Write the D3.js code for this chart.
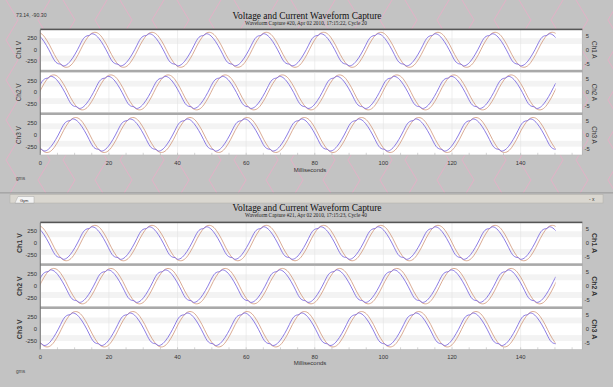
<!DOCTYPE html>
<html><head><meta charset="utf-8">
<script src="https://cdn.jsdelivr.net/npm/d3@7"></script>
<style>body{margin:0;background:#c3c3c3;overflow:hidden} svg{display:block}</style>
</head><body><svg id="c" width="613" height="387"></svg>
<script>
// ---------------- data ----------------
const CHANNELS = ["Ch1", "Ch2", "Ch3"];
const TITLES = ["Voltage and Current Waveform Capture", "Voltage and Current Waveform Capture"];
const SUBTITLES = ["Waveform Capture #20, Apr 02 2010, 17:15:22,  Cycle 20",
                   "Waveform Capture #21, Apr 02 2010, 17:15:23,  Cycle 40"];
const CORNER_TEXT = "73.14, -90.30";
const FOOT_TEXT = "gms";
const TAB_TEXT = "Gym";
const X_LABEL = "Milliseconds";
const X_TICKS = [0, 20, 40, 60, 80, 100, 120, 140];
const V_TICKS = [250, 0, -250];
const A_TICKS = [5, 0, -5];
// time (ms) of the voltage peak for each channel, per capture
const PEAK_MS_TOP = [15.0, 3.0, 9.4];
const PEAK_MS_BOTTOM = [15.0, 3.0, 9.4];
const CURRENT_LAG_MS = 0.9;
const PERIOD_MS = 16.667;
const CAPTURE_END_MS = 150.2;
// one measured cycle of voltage (V), 15 degree steps starting at the peak
const V_CYCLE = [345, 335, 300, 245, 175, 92, 0, -100, -200, -270, -300, -310,
                 -345, -335, -300, -245, -175, -92, 0, 100, 200, 270, 300, 310];
// one measured cycle of current (A), 15 degree steps starting at the peak
const A_CYCLE = [6.3, 6.1, 5.5, 4.5, 3.2, 1.7, 0, -1.7, -3.2, -4.5, -5.5, -6.1,
                 -6.3, -6.1, -5.5, -4.5, -3.2, -1.7, 0, 1.7, 3.2, 4.5, 5.5, 6.1];

// ---------------- drawing ----------------
const svg = d3.select("#c");
const W = 613;
const C_V = "#7866e0", C_A = "#d39c80";
const SANS = "'Liberation Sans', Arial, sans-serif";
const SERIF = "'Liberation Serif', 'Times New Roman', serif";

// background pink chevron pattern (top window only)
const defs = svg.append("defs");
const pat = defs.append("pattern").attr("id", "zz").attr("patternUnits", "userSpaceOnUse")
  .attr("width", 57).attr("height", 40);
pat.append("path").attr("d", "M6,0 L18,20 L6,40 M50,0 L38,20 L50,40")
  .attr("fill", "none").attr("stroke", "#f4a6c8").attr("stroke-width", 0.8);
svg.append("rect").attr("x", 0).attr("y", 0).attr("width", W).attr("height", 193)
  .attr("fill", "url(#zz)").attr("opacity", 0.8);

// window tab strip between the two captures
svg.append("rect").attr("x", 0).attr("y", 192.5).attr("width", W).attr("height", 0.8).attr("fill", "#8c8c8c");
svg.append("rect").attr("x", 10).attr("y", 194.5).attr("width", 593).attr("height", 8.5)
  .attr("fill", "#dad7d0").attr("stroke", "#b0aea8").attr("stroke-width", 0.5);
svg.append("path").attr("d", "M15,203 L18,196.5 L34,196.5 L34,203 Z").attr("fill", "#f4f4f4").attr("stroke", "#999").attr("stroke-width", 0.4);
svg.append("text").attr("x", 20).attr("y", 201.5).attr("font-family", SANS).attr("font-size", 4)
  .attr("fill", "#222").text(TAB_TEXT);
svg.append("text").attr("x", 589).attr("y", 201).attr("font-family", SANS).attr("font-size", 5)
  .attr("fill", "#333").text("- x");

const x = d3.scaleLinear().domain([0, 158]).range([40.3, 40.3 + 158 * 3.431]);

function series(peak, cycle) {
  const step = PERIOD_MS / cycle.length;
  const pts = [];
  for (let i = -cycle.length; ; i++) {
    const t = peak + i * step;
    if (t > CAPTURE_END_MS + step) break;
    if (t < -step) continue;
    pts.push([t, cycle[((i % cycle.length) + cycle.length) % cycle.length]]);
  }
  return pts;
}

function panel(idx, L) {
  const g = svg.append("g");
  const bold = idx === 1;
  if (idx === 0) {
    g.append("text").attr("x", 16).attr("y", 17).attr("font-family", SANS).attr("font-size", 5.2)
      .attr("fill", "#333").text(CORNER_TEXT);
  }
  g.append("text").attr("x", 307).attr("y", L.titleY).attr("text-anchor", "middle")
    .attr("font-family", SERIF).attr("font-size", 9.4).attr("fill", "#111").text(TITLES[idx]);
  g.append("text").attr("x", 306).attr("y", L.subY).attr("text-anchor", "middle")
    .attr("font-family", SERIF).attr("font-size", 5.3).attr("fill", "#222").text(SUBTITLES[idx]);

  const top = L.plotTop, bot = L.plotBottom, sep = 2.6;
  const h = (bot - top - 2 * sep) / 3;
  const x0 = x(0), x1 = x.range()[1];
  // plot background
  g.append("rect").attr("x", x0).attr("y", top).attr("width", x1 - x0).attr("height", bot - top).attr("fill", "#ffffff");
  const peaks = idx === 0 ? PEAK_MS_TOP : PEAK_MS_BOTTOM;

  CHANNELS.forEach((ch, c) => {
    const y0 = top + c * (h + sep);
    const yV = d3.scaleLinear().domain([-430, 430]).range([y0 + h, y0]);
    const yA = d3.scaleLinear().domain([-7.2, 7.2]).range([y0 + h, y0]);
    // faint horizontal bands
    [[125, 250], [-250, -125]].forEach(b => {
      g.append("rect").attr("x", x0).attr("y", yV(b[1])).attr("width", x1 - x0)
        .attr("height", yV(b[0]) - yV(b[1])).attr("fill", "#f3f3f3");
    });
    // vertical grid
    X_TICKS.slice(1).forEach(t => {
      g.append("line").attr("x1", x(t)).attr("x2", x(t)).attr("y1", y0).attr("y2", y0 + h)
        .attr("stroke", "#e4e4e4").attr("stroke-width", 0.6);
    });
    // separator
    if (c < 2) g.append("rect").attr("x", x0).attr("y", y0 + h).attr("width", x1 - x0).attr("height", sep).attr("fill", "#a9a9a9");

    const clipId = "cl" + idx + c;
    defs.append("clipPath").attr("id", clipId).append("rect")
      .attr("x", x(0)).attr("y", y0 - 1).attr("width", x(CAPTURE_END_MS) - x(0)).attr("height", h + 2);
    const lineV = d3.line().x(d => x(d[0])).y(d => yV(d[1])).curve(d3.curveCatmullRom);
    const lineA = d3.line().x(d => x(d[0])).y(d => yA(d[1])).curve(d3.curveCatmullRom);
    g.append("path").datum(series(peaks[c] + CURRENT_LAG_MS, A_CYCLE)).attr("d", lineA)
      .attr("fill", "none").attr("stroke", C_A).attr("stroke-width", 0.85).attr("clip-path", `url(#${clipId})`);
    g.append("path").datum(series(peaks[c], V_CYCLE)).attr("d", lineV)
      .attr("fill", "none").attr("stroke", C_V).attr("stroke-width", 0.85).attr("clip-path", `url(#${clipId})`);

    // left axis
    V_TICKS.forEach(v => {
      g.append("text").attr("x", 37).attr("y", yV(v) + 2).attr("text-anchor", "end")
        .attr("font-family", SANS).attr("font-size", 5.8).attr("fill", "#333").text(v);
    });
    const cyc = y0 + h / 2;
    g.append("text").attr("transform", `translate(${bold ? 22 : 21},${cyc}) rotate(-90)`)
      .attr("text-anchor", "middle").attr("font-family", SANS).attr("font-size", bold ? 7 : 6.4)
      .attr("font-weight", bold ? "bold" : "normal").attr("fill", "#333").text(ch + " V");
    // right axis
    A_TICKS.forEach(a => {
      g.append("text").attr("x", a < 0 ? 584.5 : 585.8).attr("y", yA(a) + 2)
        .attr("font-family", SANS).attr("font-size", 5.8).attr("fill", "#333").text(a);
    });
    g.append("text").attr("transform", `translate(592,${cyc}) rotate(90)`)
      .attr("text-anchor", "middle").attr("font-family", SANS).attr("font-size", bold ? 7 : 6.4)
      .attr("font-weight", bold ? "bold" : "normal").attr("fill", "#333").text(ch + " A");
  });

  // borders
  g.append("rect").attr("x", x0).attr("y", top - 1.2).attr("width", x1 - x0).attr("height", 1.6).attr("fill", "#555");
  g.append("line").attr("x1", x0).attr("x2", x0).attr("y1", top).attr("y2", bot).attr("stroke", "#555").attr("stroke-width", 0.8);
  g.append("line").attr("x1", x1).attr("x2", x1).attr("y1", top).attr("y2", bot).attr("stroke", "#9a9a9a").attr("stroke-width", 0.6);
  g.append("line").attr("x1", x0).attr("x2", x1).attr("y1", bot).attr("y2", bot).attr("stroke", "#b8b8b8").attr("stroke-width", 0.6);
  // minor ticks every 5 ms
  d3.range(0, 158, 5).forEach(t => {
    g.append("line").attr("x1", x(t)).attr("x2", x(t)).attr("y1", bot).attr("y2", bot - 2.2)
      .attr("stroke", "#aaa").attr("stroke-width", 0.5);
  });
  // bottom axis labels
  X_TICKS.forEach(t => {
    g.append("text").attr("x", x(t)).attr("y", L.tickY).attr("text-anchor", "middle")
      .attr("font-family", SANS).attr("font-size", 5.8).attr("fill", "#333").text(t);
  });
  g.append("text").attr("x", 310).attr("y", L.msY).attr("text-anchor", "middle")
    .attr("font-family", SANS).attr("font-size", 6).attr("fill", "#333").text(X_LABEL);
  g.append("text").attr("x", 16).attr("y", L.gmsY).attr("font-family", SANS).attr("font-size", 4.8)
    .attr("fill", "#444").text(FOOT_TEXT);
}

panel(0, {titleY: 18.5, subY: 24.6, plotTop: 29.8, plotBottom: 155, tickY: 165, msY: 171.5, gmsY: 180});
panel(1, {titleY: 211, subY: 217.3, plotTop: 222.8, plotBottom: 349.5, tickY: 358.5, msY: 365, gmsY: 373});
</script>
</body></html>
